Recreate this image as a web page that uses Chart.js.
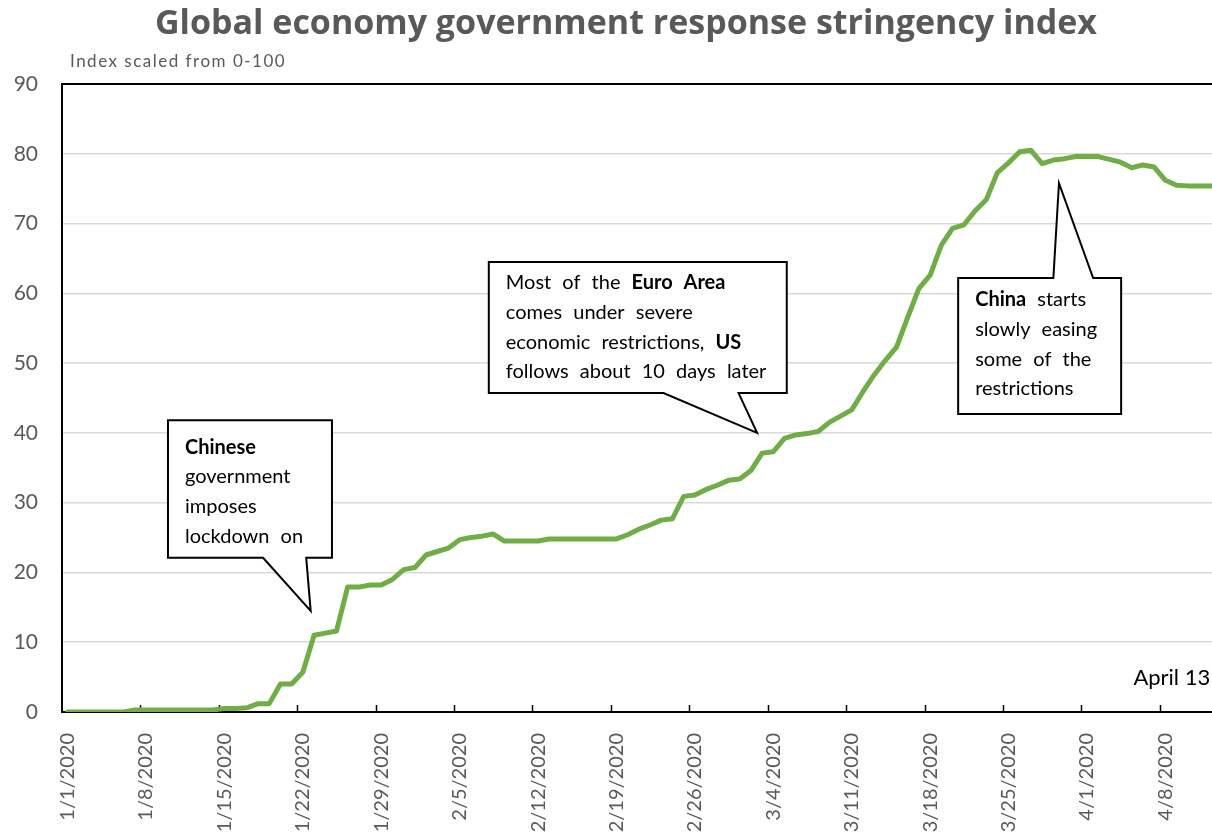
<!DOCTYPE html>
<html>
<head>
<meta charset="utf-8">
<script src="https://cdn.jsdelivr.net/npm/chart.js@4.4.1/dist/chart.umd.min.js"></script>
<style>
  html, body { margin: 0; padding: 0; background: #fff; overflow: hidden; }
  #wrap { width: 1252px; height: 839px; }
</style>
</head>
<body>
<div id="wrap"><canvas id="chart" width="1252" height="839"></canvas></div>
<script>
// Daily stringency index, 1 Jan 2020 to 13 Apr 2020
const startMonth = 1, startDay = 1, dayCount = 104;
const monthLengths = [31, 29, 31, 30];
const dateLabels = [];
(function buildDates() {
  let m = startMonth, d = startDay;
  for (let i = 0; i < dayCount; i++) {
    dateLabels.push(m + '/' + d + '/2020');
    d++;
    if (d > monthLengths[m - 1]) { d = 1; m++; }
  }
})();

const stringency = [
  0.0, 0.0, 0.0, 0.0, 0.0, 0.0, 0.3, 0.3, 0.3, 0.3,
  0.3, 0.3, 0.3, 0.3, 0.5, 0.5, 0.6, 1.2, 1.2, 4.0,
  4.0, 5.7, 11.0, 11.3, 11.6, 17.9, 17.9, 18.2, 18.2, 19.0,
  20.4, 20.7, 22.5, 23.0, 23.5, 24.7, 25.0, 25.2, 25.5, 24.5,
  24.5, 24.5, 24.5, 24.8, 24.8, 24.8, 24.8, 24.8, 24.8, 24.8,
  25.4, 26.2, 26.8, 27.5, 27.7, 30.9, 31.1, 31.9, 32.5, 33.2,
  33.4, 34.6, 37.1, 37.3, 39.2, 39.7, 39.9, 40.2, 41.5, 42.4,
  43.3, 45.9, 48.3, 50.4, 52.3, 56.6, 60.7, 62.6, 66.9, 69.3,
  69.8, 71.8, 73.4, 77.3, 78.7, 80.3, 80.5, 78.6, 79.1, 79.3,
  79.6, 79.6, 79.6, 79.2, 78.8, 78.0, 78.4, 78.1, 76.2, 75.5,
  75.4, 75.4, 75.4, 75.4
];

const yTicks = [0, 10, 20, 30, 40, 50, 60, 70, 80, 90];
const labelEvery = 7;

const chartTitle = 'Global economy government response stringency index';
const chartSubtitle = 'Index scaled from 0-100';

// Callout boxes, placed in data units (x = day index, y = index value)
const callouts = [
  {
    box: [8.96, 41.8, 23.6, 22.1],
    pointer: [17.45, 21.3],
    tip: [21.7, 14.5],
    firstLine: 27,
    lines: [
      [['Chinese', true]],
      [['government', false]],
      [['imposes', false]],
      [['lockdown on', false]]
    ]
  },
  {
    box: [37.6, 64.5, 64.2, 45.7],
    pointer: [53.2, 59.9],
    tip: [61.55, 40.0],
    firstLine: 21,
    lines: [
      [['Most of the ', false], ['Euro Area', true]],
      [['comes under severe', false]],
      [['economic restrictions, ', false], ['US', true]],
      [['follows about 10 days later', false]]
    ]
  },
  {
    box: [79.5, 62.2, 94.05, 42.7],
    pointer: [88.0, 91.55],
    tip: [88.5, 75.8],
    firstLine: 22,
    lines: [
      [['China', true], [' starts', false]],
      [['slowly easing', false]],
      [['some of the', false]],
      [['restrictions', false]]
    ]
  }
];

const FONT = 'Lato, "Open Sans", sans-serif';
const GREY = '#595959';

const decorations = {
  id: 'decorations',
  beforeDatasetsDraw(chart) {
    const { ctx, chartArea, scales: { x } } = chart;
    ctx.save();
    ctx.strokeStyle = '#000';
    ctx.lineWidth = 1.5;
    for (let i = labelEvery; i < dateLabels.length; i += labelEvery) {
      const px = Math.round((x.getPixelForValue(i - 1) + x.getPixelForValue(i)) / 2) + 0.5;
      ctx.beginPath();
      ctx.moveTo(px, chartArea.bottom);
      ctx.lineTo(px, chartArea.bottom - 7);
      ctx.stroke();
    }
    ctx.restore();
  },
  afterDatasetsDraw(chart) {
    const { ctx, chartArea, scales: { x, y } } = chart;
    ctx.save();
    // title, centred on the full figure width
    ctx.fillStyle = GREY;
    ctx.font = 'bold 34px "Open Sans", Lato, sans-serif';
    ctx.textAlign = 'center';
    ctx.textBaseline = 'middle';
    ctx.fillText(chartTitle, chart.width / 2, 24);

    // subtitle
    ctx.font = '17px ' + FONT;
    ctx.letterSpacing = '1.5px';
    ctx.textAlign = 'left';
    ctx.fillText(chartSubtitle, chartArea.left + 8, chartArea.top - 22);
    ctx.letterSpacing = '0px';

    // date note
    ctx.fillStyle = '#000';
    ctx.font = '22px ' + FONT;
    ctx.textAlign = 'right';
    ctx.fillText('April 13', x.getPixelForValue(102), y.getPixelForValue(4.9));

    // callouts
    ctx.wordSpacing = '6px';
    callouts.forEach(c => {
      const L = x.getPixelForValue(c.box[0]);
      const T = y.getPixelForValue(c.box[1]);
      const R = x.getPixelForValue(c.box[2]);
      const B = y.getPixelForValue(c.box[3]);
      const p0 = x.getPixelForValue(c.pointer[0]);
      const p1 = x.getPixelForValue(c.pointer[1]);
      const tx = x.getPixelForValue(c.tip[0]);
      const ty = y.getPixelForValue(c.tip[1]);
      const tipAbove = ty < T;
      ctx.beginPath();
      ctx.moveTo(L, T);
      if (tipAbove) {
        ctx.lineTo(p0, T); ctx.lineTo(tx, ty); ctx.lineTo(p1, T);
      }
      ctx.lineTo(R, T);
      ctx.lineTo(R, B);
      if (!tipAbove) {
        ctx.lineTo(p1, B); ctx.lineTo(tx, ty); ctx.lineTo(p0, B);
      }
      ctx.lineTo(L, B);
      ctx.closePath();
      ctx.fillStyle = '#fff';
      ctx.fill();
      ctx.strokeStyle = '#000';
      ctx.lineWidth = 2;
      ctx.lineJoin = 'miter';
      ctx.stroke();

      ctx.fillStyle = '#000';
      ctx.textAlign = 'left';
      ctx.textBaseline = 'middle';
      c.lines.forEach((segs, li) => {
        let cx = L + 17;
        const cy = T + c.firstLine + li * 29.6;
        segs.forEach(([t, bold]) => {
          ctx.font = (bold ? 'bold ' : '') + '20px ' + FONT;
          ctx.fillText(t, cx, cy);
          cx += ctx.measureText(t).width;
        });
      });
    });
    ctx.wordSpacing = '0px';
    ctx.restore();
  }
};

new Chart(document.getElementById('chart'), {
  type: 'line',
  data: {
    labels: dateLabels,
    datasets: [{
      data: stringency,
      borderColor: '#70AD47',
      borderWidth: 5,
      pointRadius: 0,
      tension: 0,
      borderJoinStyle: 'round',
      borderCapStyle: 'round'
    }]
  },
  options: {
    responsive: false,
    animation: false,
    devicePixelRatio: 1,
    layout: { padding: { left: 0, right: 25, top: 84, bottom: 0 } },
    plugins: {
      legend: { display: false },
      tooltip: { enabled: false },
      title: { display: false }
    },
    scales: {
      x: {
        offset: true,
        grid: { display: false, offset: true },
        border: { color: '#000', width: 2 },
        ticks: {
          autoSkip: false,
          minRotation: 90,
          maxRotation: 90,
          padding: 13,
          color: GREY,
          font: { family: FONT, size: 20 },
          callback: (v, i) => (i % labelEvery === 0 ? dateLabels[i] : null)
        },
        afterFit: s => { s.height = 127; }
      },
      y: {
        min: 0,
        max: 90,
        afterBuildTicks: s => { s.ticks = yTicks.map(v => ({ value: v })); },
        grid: {
          drawTicks: false,
          color: c => (c.tick && c.tick.value === 90 ? '#000' : '#d9d9d9'),
          lineWidth: c => (c.tick && c.tick.value === 90 ? 2 : 1.5)
        },
        border: { color: '#000', width: 2 },
        ticks: {
          padding: 24,
          color: GREY,
          font: { family: FONT, size: 21 }
        },
        afterFit: s => { s.width = 62; }
      }
    }
  },
  plugins: [decorations]
});
</script>
</body>
</html>
